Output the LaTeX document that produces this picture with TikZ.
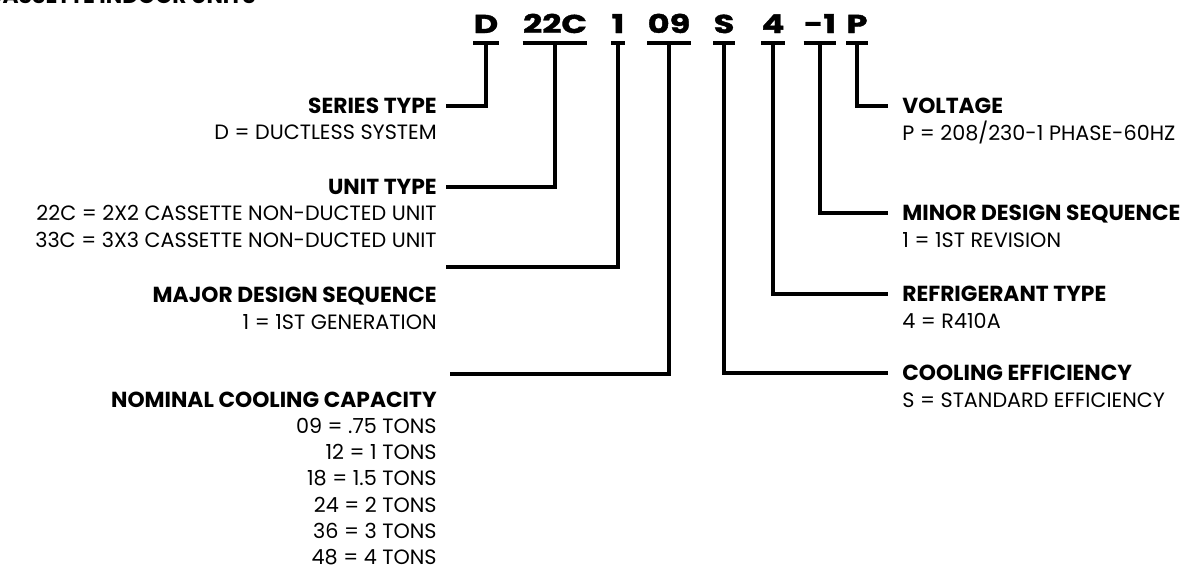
\documentclass[tikz,border=0pt]{standalone}
\usepackage{fontspec}
\setmainfont{Poppins}
\usetikzlibrary{positioning,calc}

\tikzset{
  bar/.style={line width=2.3pt},
  code/.style={font=\fontsize{14.7}{16}\selectfont\bfseries\addfontfeatures{FakeStretch=1.3,FakeBold=1.5}, inner xsep=0pt, inner ysep=0.2cm, text depth=0pt, anchor=base},
  lft/.style={font=\fontsize{11.8}{14}\selectfont, inner xsep=0.18cm, inner ysep=0pt, text height=8.2pt, text depth=0pt, anchor=east},
  rgt/.style={font=\fontsize{11.8}{14}\selectfont, inner xsep=0.28cm, inner ysep=0pt, text height=8.2pt, text depth=0pt, anchor=west},
  ttl/.style={font=\fontsize{12.4}{14}\selectfont\bfseries},
}

\begin{document}
\begin{tikzpicture}[x=0.02cm, y=-0.02cm]
  \useasboundingbox (0,0) rectangle (1193,569);

  % heading (cut off at the top)
  \node[ttl, anchor=base east, inner sep=0pt] (heading) at (256,3) {CASSETTE INDOOR UNITS};

  % model number
  \foreach \n/\x/\t in {cD/486/D, cUnit/555/22C, cMajor/618/1, cCap/669/09,
                        cEff/724/S, cRef/773/4, cMinor/820/-1, cVolt/857/P} {
    \node[code] (\n) at (\x,33) {\t};
    \draw[bar] (\n.south west) -- (\n.south east);
  }

  % left side
  \node[lft, ttl] (series) at (446,106) {SERIES TYPE};
  \node[lft] (seriesD) at (446,132) {D = DUCTLESS SYSTEM};

  \node[lft, ttl] (unit) at (446,187) {UNIT TYPE};
  \node[lft] (unitA) at (446,213) {22C = 2X2 CASSETTE NON-DUCTED UNIT};
  \node[lft] (unitB) at (446,240) {33C = 3X3 CASSETTE NON-DUCTED UNIT};

  \coordinate (majorEnd) at (446,267);
  \node[lft, ttl] (major) at (446,295) {MAJOR DESIGN SEQUENCE};
  \node[lft] (majorD) at (446,322) {1 = 1ST GENERATION};

  \coordinate (capEnd) at (450,374);
  \node[lft, ttl] (capacity) at (446,400) {NOMINAL COOLING CAPACITY};
  \foreach \i/\t in {0/09 = .75 TONS, 1/12 = 1 TONS, 2/18 = 1.5 TONS,
                     3/24 = 2 TONS, 4/36 = 3 TONS, 5/48 = 4 TONS} {
    \node[lft] (cap\i) at (446,426+26.3*\i) {\t};
  }

  % right side
  \node[rgt, ttl] (volt) at (888,106) {VOLTAGE};
  \node[rgt] (voltD) at (888,133) {P = 208/230-1 PHASE-60HZ};

  \node[rgt, ttl] (minor) at (888,213) {MINOR DESIGN SEQUENCE};
  \node[rgt] (minorD) at (888,240) {1 = 1ST REVISION};

  \node[rgt, ttl] (refr) at (888,294) {REFRIGERANT TYPE};
  \node[rgt] (refrD) at (888,321) {4 = R410A};

  \node[rgt, ttl] (eff) at (888,373) {COOLING EFFICIENCY};
  \node[rgt] (effD) at (888,400) {S = STANDARD EFFICIENCY};

  % connectors
  \draw[bar] (cD.south) |- (series.east);
  \draw[bar] (cUnit.south) |- (unit.east);
  \draw[bar] (cMajor.south) |- (majorEnd);
  \draw[bar] (cCap.south) |- (capEnd);
  \draw[bar] (cEff.south) |- (eff.west);
  \draw[bar] (cRef.south) |- (refr.west);
  \draw[bar] (cMinor.south) |- (minor.west);
  \draw[bar] (cVolt.south) |- (volt.west);
\end{tikzpicture}
\end{document}
